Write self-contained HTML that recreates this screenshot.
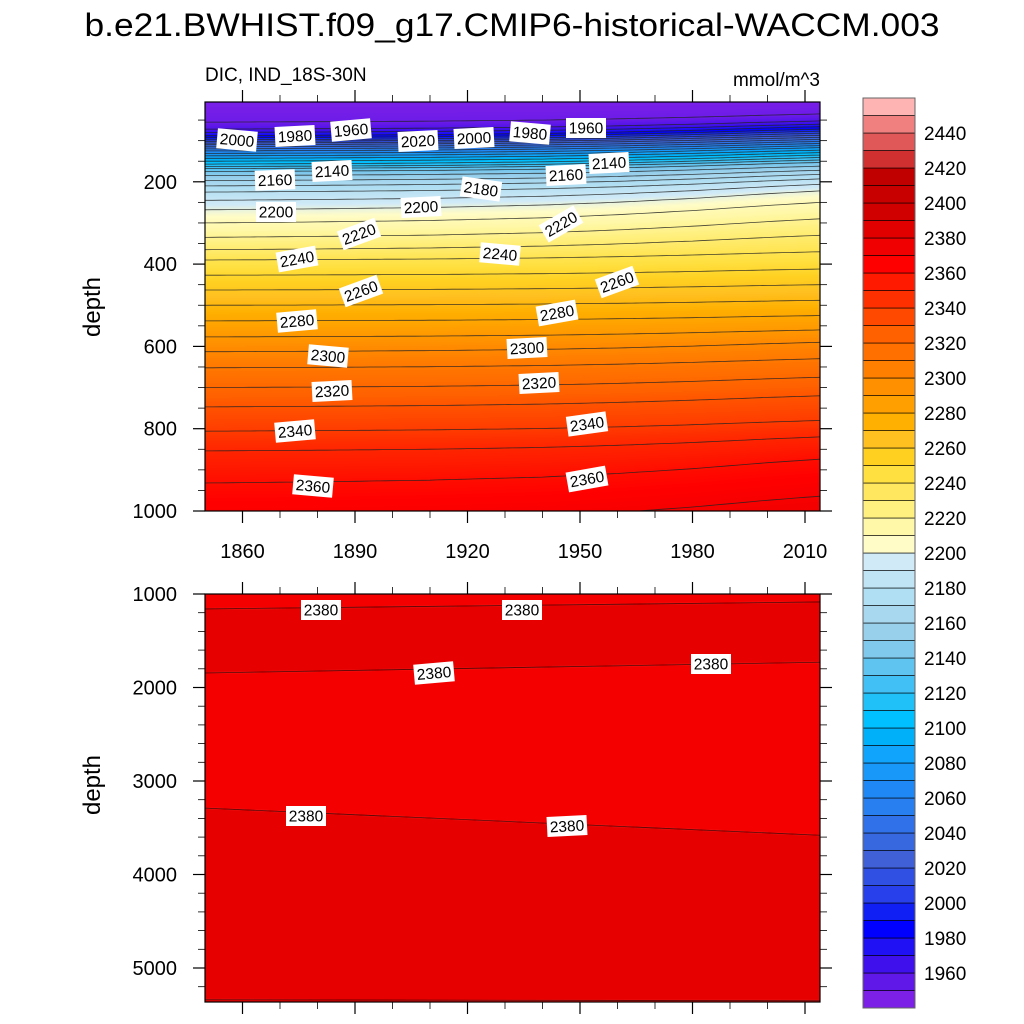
<!DOCTYPE html>
<html><head><meta charset="utf-8"><style>
html,body{margin:0;padding:0;background:#fff;}
#wrap{position:relative;width:1024px;height:1024px;overflow:hidden;font-family:"Liberation Sans",sans-serif;}
canvas{position:absolute;left:0;top:0;}
svg{position:absolute;left:0;top:0;}
</style></head><body>
<div id="wrap">
<canvas id="cv" width="1024" height="1024"></canvas>
<svg id="sv" width="1024" height="1024"></svg>
</div>
<script>
// ---- data ----
const levels = [1950,1960,1970,1980,1990,2000,2010,2020,2030,2040,2050,2060,2070,2080,2090,2100,2110,2120,2130,2140,2150,2160,2170,2180,2190,2200,2210,2220,2230,2240,2250,2260,2270,2280,2290,2300,2310,2320,2330,2340,2350,2360,2370];
const depthStart = [55,72,80,88,93,98,102,106,110,115,120,125,131,137,143,150,157,163,168,175,185,197,210,225,245,268,300,335,365,390,427,463,500,538,577,613,652,700,747,806,854,932,1030];
const depthEnd = [35,52,60,66,72,77,82,87,92,97,102,107,112,117,123,129,135,141,147,153,162,172,182,193,206,222,250,290,330,370,412,450,488,525,560,590,630,675,720,780,820,874,964];
const trendYears = [1850,1880,1910,1940,1960,1980,2000,2014];
const trendFrac = [0,0.05,0.12,0.25,0.4,0.6,0.85,1];
const deepLineStart = [1160,1845,3290,5340];
const deepLineEnd = [1085,1730,3580,5350];
const barLabels = [2440,2420,2400,2380,2360,2340,2320,2300,2280,2260,2240,2220,2200,2180,2160,2140,2120,2100,2080,2060,2040,2020,2000,1980,1960];
const xTicks = [1860,1890,1920,1950,1980,2010];
const yTicksTop = [200,400,600,800,1000];
const yTicksBot = [1000,2000,3000,4000,5000];
// colours ascending from 1940
const colsAsc = ["7c20e8","6018e8","4010ec","2010f4","0000ff","1020f4","2840ec","3050e4","4060d8","3868e0","3070e8","2880f0","2088f4","1898f8","10a4fc","00b0f8","00c0ff","20c0f8","40c0f4","60c4f0","80c8ec","98d0ec","a8d8f0","b0def2","c0e4f4","d0eaf8",
"fffcc8","fff8a8","fff080","ffe860","ffe040","ffd020","ffc020","ffb000","ffa000","ff9000","ff8000","ff7000","ff6000","ff4800","ff3000","ff1a00","ff0000","f00000","e00000","d00000","c80000","c00000","d03030","e05858","f08080","ffb4b4"];
const contourLabels = [[237,140,5,"2000"],[295,136,-3,"1980"],[351,130,-5,"1960"],[418,141,-3,"2020"],[474,138,-3,"2000"],[530,133,5,"1980"],[586,128,0,"1960"],[275,180,-2,"2160"],[332,171,-3,"2140"],[481,189,8,"2180"],[566,175,-3,"2160"],[609,163,-3,"2140"],[276,212,0,"2200"],[421,207,-3,"2200"],[359,234,-20,"2220"],[561,224,-30,"2220"],[297,259,-10,"2240"],[500,254,5,"2240"],[361,291,-20,"2260"],[617,282,-20,"2260"],[297,321,-5,"2280"],[557,313,-10,"2280"],[328,356,5,"2300"],[527,348,-3,"2300"],[332,391,-3,"2320"],[539,383,-3,"2320"],[295,431,-5,"2340"],[587,424,-8,"2340"],[313,486,5,"2360"],[587,479,-10,"2360"],
[321,610,0,"2380"],[522,610,0,"2380"],[434,673,-5,"2380"],[711,664,0,"2380"],[306,816,0,"2380"],[567,826,-3,"2380"]];
// ---- geometry ----
const PL=205,PR=820,TT=102,TB=511,BT=594,BB=1002;
const Y0=1850,Y1=2014;
function xs(y){return PL+(y-Y0)/(Y1-Y0)*(PR-PL);}
function ysT(d){return 99.5+d*0.4115;}
function dT(py){return (py-99.5)/0.4115;}
function ysB(d){return 594+(d-1000)*0.0935;}
function interp(xa,ya,x){if(x<=xa[0])return ya[0];for(let i=1;i<xa.length;i++){if(x<=xa[i]){const f=(x-xa[i-1])/(xa[i]-xa[i-1]);return ya[i-1]+f*(ya[i]-ya[i-1]);}}return ya[ya.length-1];}
function levDepths(yr){const f=interp(trendYears,trendFrac,yr);return depthStart.map((d,i)=>d+(depthEnd[i]-d)*f);}
function hex(c){return [parseInt(c.slice(0,2),16),parseInt(c.slice(2,4),16),parseInt(c.slice(4,6),16)];}
const rgbAsc=colsAsc.map(hex);
function colorOf(v){const p=(v-1945)/10;if(p<=0)return rgbAsc[0];if(p>=rgbAsc.length-1)return rgbAsc[rgbAsc.length-1];const i=Math.floor(p),f=p-i;const a=rgbAsc[i],b=rgbAsc[i+1];return [a[0]+(b[0]-a[0])*f,a[1]+(b[1]-a[1])*f,a[2]+(b[2]-a[2])*f];}
// ---- fill ----
const ctx=document.getElementById('cv').getContext('2d');
const img=ctx.createImageData(PR-PL,TB-TT);
for(let px=0;px<PR-PL;px++){
  const yr=Y0+(px+0.5)/(PR-PL)*(Y1-Y0);const ld=levDepths(yr);
  for(let py=0;py<TB-TT;py++){
    const d=dT(TT+py+0.5);let v;
    if(d<=ld[0])v=1945+5*d/ld[0];else if(d>=ld[ld.length-1])v=2370+10*(d-ld[ld.length-1])/100;
    else{for(let k=1;k<ld.length;k++){if(d<=ld[k]){v=levels[k-1]+10*(d-ld[k-1])/(ld[k]-ld[k-1]);break;}}}
    const c=colorOf(v);const o=(py*(PR-PL)+px)*4;img.data[o]=c[0];img.data[o+1]=c[1];img.data[o+2]=c[2];img.data[o+3]=255;
  }
}
ctx.putImageData(img,PL,TT);
// bottom bands
const bandCols=["#f40000","#e60000","#f40000","#e60000","#f40000"];
for(let px=0;px<PR-PL;px++){
  const yr=Y0+(px+0.5)/(PR-PL)*(Y1-Y0);const f=(yr-Y0)/(Y1-Y0);
  const ds=deepLineStart.map((d,i)=>ysB(d+(deepLineEnd[i]-d)*f));
  let prev=BT;
  for(let k=0;k<=ds.length;k++){const nxt=k<ds.length?Math.min(ds[k],BB):BB;ctx.fillStyle=bandCols[k];ctx.fillRect(PL+px,prev,1,nxt-prev);prev=nxt;}
}
// ---- svg ----
const NS="http://www.w3.org/2000/svg";const sv=document.getElementById('sv');
function mk(t,a,parent){const e=document.createElementNS(NS,t);for(const k in a)e.setAttribute(k,a[k]);(parent||sv).appendChild(e);return e;}
// contour lines top
levels.forEach((L,i)=>{
  let pts=[];for(let yr=Y0;yr<=Y1;yr+=2){const d=levDepths(yr)[i];pts.push(xs(yr).toFixed(1)+","+Math.max(TT,Math.min(TB,ysT(d))).toFixed(1));}
  const e=mk('polyline',{points:pts.join(' '),fill:'none',stroke:'#222','stroke-width':0.8,'stroke-opacity':0.85});
  
  
});
deepLineStart.forEach((d0,i)=>{
  const e=mk('line',{x1:PL,y1:ysB(d0),x2:PR,y2:ysB(deepLineEnd[i]),stroke:'#500',"stroke-width":0.8});
  
  
});
// labels
contourLabels.forEach(l=>{
  const g=mk('g',{transform:`translate(${l[0]},${l[1]}) rotate(${l[2]})`});
  
  
  mk('rect',{x:-20,y:-10,width:40,height:20,fill:'#fff'},g);
  const t=mk('text',{x:0,y:5.5,'text-anchor':'middle','font-size':15.5,fill:'#000'},g);t.textContent=l[3];
});
// frames and ticks
function axes(top,bot,yticks,ysf,minStep,yMin,yMax,labelsX,name){
  const f=mk('rect',{x:PL,y:top,width:PR-PL,height:bot-top,fill:'none',stroke:'#000','stroke-width':1.2});
  
  
  for(let yr=1860;yr<=Y1;yr+=10){const maj=(yr-1860)%30==0;const L=maj?12:7;const x=xs(yr);
    mk('line',{x1:x,y1:bot,x2:x,y2:bot+L,stroke:'#000','stroke-width':maj?1.2:0.8});
    mk('line',{x1:x,y1:top,x2:x,y2:top-L,stroke:'#000','stroke-width':maj?1.2:0.8});}
  for(let d=Math.ceil(yMin/minStep)*minStep;d<=yMax;d+=minStep){const maj=yticks.includes(d);const L=maj?12:7;const y=ysf(d);if(y<top-0.5||y>bot+0.5)continue;
    mk('line',{x1:PL,y1:y,x2:PL-L,y2:y,stroke:'#000','stroke-width':maj?1.2:0.8});
    mk('line',{x1:PR,y1:y,x2:PR+L,y2:y,stroke:'#000','stroke-width':maj?1.2:0.8});}
  yticks.forEach(d=>{const t=mk('text',{x:PL-28,y:ysf(d)+7,'text-anchor':'end','font-size':20});t.textContent=d;
    
    });
  if(labelsX)xTicks.forEach(yr=>{const t=mk('text',{x:xs(yr),y:bot+47,'text-anchor':'middle','font-size':20});t.textContent=yr;
    
    });
}
axes(TT,TB,yTicksTop,ysT,50,0,1000,true,'top-panel');
axes(BT,BB,yTicksBot,ysB,200,1000,5400,false,'bottom-panel');
// titles
let t=mk('text',{x:512,y:36,'text-anchor':'middle','font-size':32,textLength:855,lengthAdjust:'spacingAndGlyphs'});t.textContent="b.e21.BWHIST.f09_g17.CMIP6-historical-WACCM.003";


t=mk('text',{x:205,y:81,'font-size':19});t.textContent="DIC, IND_18S-30N";


t=mk('text',{x:820,y:86,'text-anchor':'end','font-size':19});t.textContent="mmol/m^3";


[[307],[785]].forEach(p=>{const e=mk('text',{x:0,y:0,transform:`translate(100,${p[0]}) rotate(-90)`,'text-anchor':'middle','font-size':24});e.textContent="depth";
  
  });
// colorbar
const CBX=863,CBW=52,CBT=98,BH=17.5;
const nb=colsAsc.length;
for(let i=0;i<nb;i++){const y=CBT+(nb-1-i)*BH;const r=mk('rect',{x:CBX,y:y,width:CBW,height:BH,fill:'#'+colsAsc[i],stroke:'#000','stroke-width':0.6});
  
  }
mk('rect',{x:CBX,y:CBT,width:CBW,height:nb*BH,fill:'none',stroke:'#666','stroke-width':1});
barLabels.forEach(v=>{const y=CBT+(2460-v)/10*BH;const e=mk('text',{x:CBX+CBW+9,y:y+7,'font-size':19});e.textContent=v;
  
  });
</script>
</body></html>
